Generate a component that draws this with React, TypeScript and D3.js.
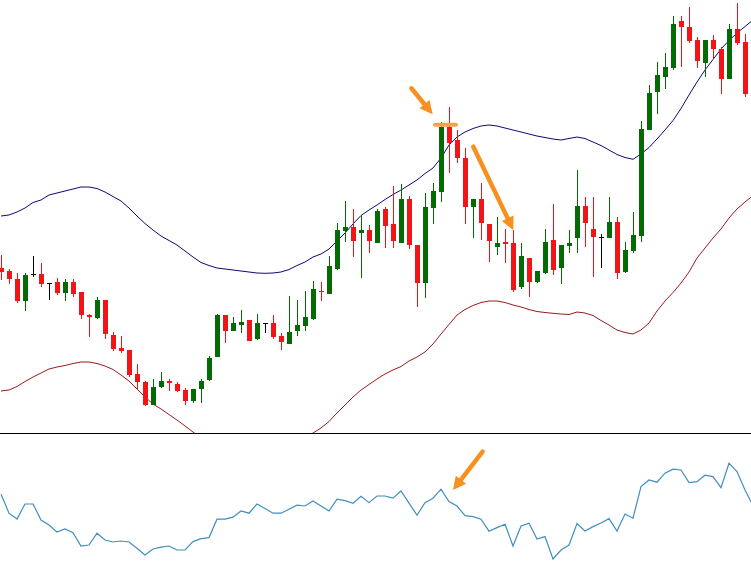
import React from "react";
import * as d3 from "d3";

// candle values, oldest first (one per bar)
const opens = [232, 229, 221, 199, 226, 226, 217, 218, 207, 218, 208, 185, 182, 200, 165, 152, 150, 126, 118, 95,
  113, 119, 116, 110, 99, 111, 120, 143, 185, 169, 175, 180, 161, 177, 177, 164, 156, 169, 174, 181,
  209, 206, 231, 269, 273, 267, 270, 257, 291, 276, 257, 301, 255, 217, 292, 308, 373, 360, 342, 293,
  301, 276, 253, 258, 257, 213, 242, 218, 227, 260, 232, 254, 262, 294, 271, 263, 262, 278, 228, 249,
  264, 370, 408, 423, 432, 479, 473, 460, 437, 460, 451, 421, 471, 458];
const highs = [245, 231, 227, 227, 244, 237, 217, 222, 221, 221, 208, 186, 203, 200, 168, 164, 150, 136, 119, 121,
  128, 121, 118, 112, 111, 121, 144, 186, 185, 183, 190, 180, 186, 177, 185, 167, 204, 200, 209, 219,
  218, 244, 277, 299, 291, 285, 275, 291, 293, 314, 316, 304, 255, 307, 317, 378, 393, 370, 352, 301,
  317, 276, 283, 271, 270, 257, 242, 229, 271, 296, 255, 270, 330, 303, 303, 266, 303, 283, 258, 288,
  379, 415, 438, 447, 484, 484, 493, 463, 460, 465, 453, 476, 497, 466];
const lows = [220, 216, 197, 189, 223, 213, 200, 205, 199, 203, 181, 163, 181, 161, 149, 147, 123, 110, 94, 95,
  112, 109, 108, 95, 97, 97, 119, 143, 157, 169, 167, 159, 160, 167, 161, 150, 156, 164, 169, 180,
  199, 206, 230, 258, 243, 222, 247, 257, 252, 252, 257, 251, 193, 202, 276, 298, 327, 337, 276, 262,
  260, 238, 245, 237, 208, 211, 203, 217, 226, 225, 216, 247, 247, 253, 223, 232, 262, 221, 227, 247,
  258, 370, 386, 411, 430, 433, 457, 432, 423, 441, 406, 421, 455, 403];
const closes = [228, 221, 199, 225, 226, 216, 217, 207, 218, 206, 185, 183, 200, 166, 151, 149, 125, 118, 95, 113,
  119, 117, 109, 99, 111, 119, 142, 185, 169, 177, 178, 159, 177, 177, 163, 158, 168, 175, 183, 211,
  208, 234, 270, 273, 259, 270, 259, 289, 274, 259, 301, 255, 217, 293, 309, 373, 357, 342, 293, 301,
  277, 259, 257, 256, 210, 244, 218, 229, 258, 230, 255, 257, 294, 277, 263, 263, 278, 227, 250, 265,
  371, 407, 425, 433, 476, 473, 459, 439, 460, 451, 421, 471, 457, 406];

// bollinger bands (one more point than candles, runs off the right edge)
const upperBand = [284, 285, 288, 292, 297.5, 300, 305, 307, 309, 311, 313, 313, 311.5, 308, 303.5, 299, 292, 284, 276.5, 270,
  264, 259.5, 255, 249, 243, 237.5, 234.5, 232, 231, 230, 229, 228, 227, 226.7, 227, 228, 230.5, 234.5, 238, 243,
  246, 251, 259, 267, 276, 284.5, 290, 295, 300.5, 305.5, 310, 315, 320, 326.5, 332, 342, 355, 363, 368, 371.5,
  374, 375, 374, 372, 370, 368, 366, 364, 362.5, 361, 360, 361.5, 363, 361.5, 358, 354.5, 350, 345.5, 342.5, 340.7,
  346, 352.5, 361, 370, 379.5, 391.5, 405, 418, 430, 440.5, 451, 459.5, 467, 473.5, 480];
const lowerBand = [109, 110, 113.5, 118.5, 123, 127, 131, 133, 134.5, 136.5, 138, 138, 136.5, 134, 130.5, 125, 119, 111, 103, 96,
  91, 85.5, 80, 74, 68, 62, 55, 48, 42, 38, 35, 34, 34, 36, 39, 44, 50, 56, 62, 67,
  72, 78.5, 87, 95, 103, 110, 115.5, 121, 126, 130, 133.5, 139, 143, 148, 156, 166, 175.5, 185, 190.5, 194.5,
  197.5, 199, 199, 197.5, 195, 193, 190.5, 188.5, 187.5, 186.7, 186, 185.5, 188, 187, 184.5, 179.5, 175, 170, 167.5, 166,
  170, 177, 189, 199, 207.5, 217, 228, 242, 252, 262, 271, 282, 291, 298, 304.5];

// oscillator in the lower pane
const rsi = [52.9, 43.4, 40.5, 48, 48, 40, 37.5, 34, 35.5, 33.7, 27, 27.5, 33.4, 30, 29, 29.5, 29, 25.9, 22.5, 25.5,
  26.4, 27, 25, 25, 29.2, 30.7, 31.2, 40.4, 40.4, 41.4, 44.5, 43.4, 48, 45.7, 43.4, 43.4, 45.4, 47.4, 47, 49.5,
  47, 44.5, 50.4, 49.7, 48.4, 51.9, 48.7, 52, 52, 50.9, 54.5, 48.4, 42.4, 48.7, 50.9, 55.4, 49.2, 47, 42.2, 41.7,
  40.4, 34.4, 36.2, 37.9, 27, 37, 38.4, 30.5, 31.7, 20.5, 25, 27.5, 38.2, 34.5, 36.7, 38.5, 40.7, 34.5, 43, 40.9,
  56.7, 60, 58.9, 63.4, 65.4, 65, 58.7, 59.2, 62.4, 61.7, 56.2, 68.4, 64.2, 55, 47.2];

// annotations: [bar index, value]
const arrowNotes = [
  { pane: "price", from: [51.3, 411.7], to: [53.96, 385.7] },
  { pane: "price", from: [59.04, 353.3], to: [64.04, 270] },
  { pane: "rsi", from: [60.2, 74.2], to: [56.5, 55] },
];
const topMark = { from: 54.25, to: 56.875, value: 375.3 };

const W = 751;
const H = 580;
const SPLIT = 433;

const GREEN = "#046b04";
const RED = "#f21515";
const ORANGE = "#f7901e";

const App = () => {
  const x = d3.scaleLinear().domain([0, 93]).range([1, 745]);
  const yP = d3.scaleLinear().domain([67, 500]).range([SPLIT, 0]);
  const yR = d3.scaleLinear().domain([10, 83.5]).range([H, SPLIT]);

  const bandLine = d3
    .line<number>()
    .x((_, i) => x(i))
    .y((d) => yP(d));
  const rsiLine = d3
    .line<number>()
    .x((_, i) => x(i))
    .y((d) => yR(d));

  const arrow = (x1: number, y1: number, x2: number, y2: number, key: string) => {
    const len = Math.hypot(x2 - x1, y2 - y1);
    const ux = (x2 - x1) / len;
    const uy = (y2 - y1) / len;
    const head = 13;
    const half = 6.5;
    const bx = x2 - ux * head;
    const by = y2 - uy * head;
    const pts = [
      [x2, y2],
      [bx - uy * half, by + ux * half],
      [bx + uy * half, by - ux * half],
    ];
    return (
      <g key={key}>
        <line x1={x1} y1={y1} x2={bx + ux * 2} y2={by + uy * 2} stroke={ORANGE} strokeWidth={4.5} strokeLinecap="round" />
        <polygon points={pts.map((p) => p.join(",")).join(" ")} fill={ORANGE} />
      </g>
    );
  };

  return (
    <svg width={W} height={H} style={{ position: "absolute", left: 0, top: 0, background: "#fff" }}>
      <defs>
        <clipPath id="pricePane">
          <rect x={0} y={0} width={W} height={SPLIT} />
        </clipPath>
        <clipPath id="rsiPane">
          <rect x={0} y={SPLIT + 1} width={W} height={H - SPLIT - 1} />
        </clipPath>
      </defs>

      <g clipPath="url(#pricePane)">
        <path d={bandLine(upperBand) ?? ""} fill="none" stroke="#0a0a78" strokeWidth={1} />
        <path d={bandLine(lowerBand) ?? ""} fill="none" stroke="#9a1a1a" strokeWidth={1} />

        {opens.map((o, i) => {
          const c = closes[i];
          const cx = Math.round(x(i)) + 0.5;
          const col = c > o ? GREEN : c < o ? RED : "#000";
          const top = yP(Math.max(o, c));
          const bot = yP(Math.min(o, c));
          return (
            <g key={i} shapeRendering="crispEdges">
              <line x1={cx} x2={cx} y1={yP(highs[i])} y2={yP(lows[i])} stroke={col} strokeWidth={1} />
              {c === o ? (
                <line x1={cx - 2.5} x2={cx + 2.5} y1={top} y2={top} stroke={col} strokeWidth={1} />
              ) : (
                <rect x={cx - 2.5} y={top} width={5} height={Math.max(1, bot - top)} fill={col} />
              )}
            </g>
          );
        })}
      </g>

      <line x1={0} x2={W} y1={SPLIT + 0.5} y2={SPLIT + 0.5} stroke="#000" strokeWidth={1} />

      <g clipPath="url(#rsiPane)">
        <path d={rsiLine(rsi) ?? ""} fill="none" stroke="#3f8fbf" strokeWidth={1.2} />
      </g>

      <line
        x1={x(topMark.from)}
        x2={x(topMark.to)}
        y1={yP(topMark.value)}
        y2={yP(topMark.value)}
        stroke="#f5a24e"
        strokeWidth={4}
        strokeLinecap="round"
      />
      {arrowNotes.map((a, k) => {
        const yS = a.pane === "price" ? yP : yR;
        return arrow(x(a.from[0]), yS(a.from[1]), x(a.to[0]), yS(a.to[1]), "a" + k);
      })}
    </svg>
  );
};

export default App;
